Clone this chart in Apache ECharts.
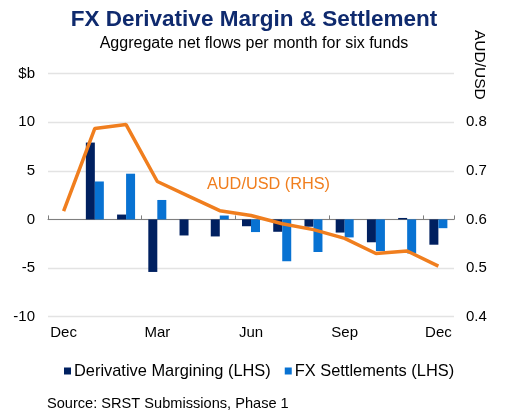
<!DOCTYPE html>
<html><head><meta charset="utf-8">
<script src="https://cdn.jsdelivr.net/npm/echarts@6/dist/echarts.min.js"></script>
<style>html,body{margin:0;padding:0;background:#fff}#c{width:508px;height:416px}</style>
</head><body><div id="c"></div>
<script>
var categories = ['Dec','Jan','Feb','Mar','Apr','May','Jun','Jul','Aug','Sep','Oct','Nov','Dec'];
var derivMargining = [null, 7.9, 0.5, -5.4, -1.65, -1.75, -0.7, -1.27, -0.75, -1.35, -2.35, 0.15, -2.6];
var fxSettlements = [null, 3.9, 4.7, 2.0, 0, 0.4, -1.3, -4.3, -3.35, -1.85, -3.25, -3.5, -0.9];
var audUsd = [0.617, 0.787, 0.795, 0.678, 0.648, 0.618, 0.608, 0.591, 0.579, 0.561, 0.530, 0.535, 0.504];

var F = '"Liberation Sans", Arial, sans-serif';
var chart = echarts.init(document.getElementById('c'));
chart.setOption({
  animation: false,
  textStyle: {fontFamily: F},
  title: [
    {text: 'FX Derivative Margin & Settlement', left: 'center', top: 3,
     textStyle: {fontFamily: F, fontSize: 22.5, fontWeight: 'bold', color: '#0f2a6e'}},
    {text: 'Aggregate net flows per month for six funds', left: 'center', top: 31,
     textStyle: {fontFamily: F, fontSize: 16, fontWeight: 'normal', color: '#000'}}
  ],
  graphic: [
    {type: 'text', left: 471, top: 30, rotation: -Math.PI / 2,
     style: {text: 'AUD/USD', font: '15.5px ' + F, fill: '#000'}},
    {type: 'text', left: 207, top: 177,
     style: {text: 'AUD/USD (RHS)', font: '16.3px ' + F, fill: '#f07e1e'}},
    {type: 'text', left: 47, top: 396,
     style: {text: 'Source: SRST Submissions, Phase 1', font: '14.6px ' + F, fill: '#000'}}
  ],
  legend: {
    data: ['Derivative Margining (LHS)', 'FX Settlements (LHS)'],
    left: 59, top: 358, icon: 'rect', itemWidth: 7, itemHeight: 7, itemGap: 14,
    textStyle: {fontFamily: F, fontSize: 16.4, color: '#000', padding: [0, 0, 0, -2]}
  },
  grid: {left: 48, right: 54, top: 73.5, bottom: 99.3, containLabel: false},
  xAxis: [
    {type: 'category', data: categories, position: 'bottom',
     axisLine: {show: false, onZero: false}, axisTick: {show: false},
     axisLabel: {interval: 2, color: '#000', fontSize: 15, fontFamily: F, margin: 9}},
    {type: 'category', data: categories, position: 'bottom',
     axisLine: {show: true, onZero: true, lineStyle: {color: '#7f7f7f', width: 1}},
     axisTick: {show: true, interval: 2, inside: true, length: 4, lineStyle: {color: '#7f7f7f'}},
     axisLabel: {show: false}}
  ],
  yAxis: [
    {type: 'value', min: -10, max: 15, interval: 5,
     axisLine: {show: false}, axisTick: {show: false},
     axisLabel: {color: '#000', fontSize: 15, fontFamily: F, margin: 13,
       formatter: function (v) { return v === 15 ? '$b' : String(v); }},
     splitLine: {lineStyle: {color: '#e3e3e3', width: 1.3}}},
    {type: 'value', min: 0.4, max: 0.9, interval: 0.1,
     axisLine: {show: false}, axisTick: {show: false},
     axisLabel: {color: '#000', fontSize: 15, fontFamily: F, margin: 12,
       formatter: function (v) { return Math.abs(v - 0.9) < 1e-6 ? '' : v.toFixed(1); }},
     splitLine: {show: false}}
  ],
  series: [
    {name: 'Derivative Margining (LHS)', type: 'bar', data: derivMargining,
     barWidth: 9, barGap: '0%', itemStyle: {color: '#002060'}},
    {name: 'FX Settlements (LHS)', type: 'bar', data: fxSettlements,
     barWidth: 9, barGap: '0%', itemStyle: {color: '#0872d2'}},
    {name: 'AUD/USD (RHS)', type: 'line', yAxisIndex: 1, data: audUsd,
     symbol: 'none', lineStyle: {color: '#f07e1e', width: 3.5}, z: 5}
  ]
});
</script></body></html>
